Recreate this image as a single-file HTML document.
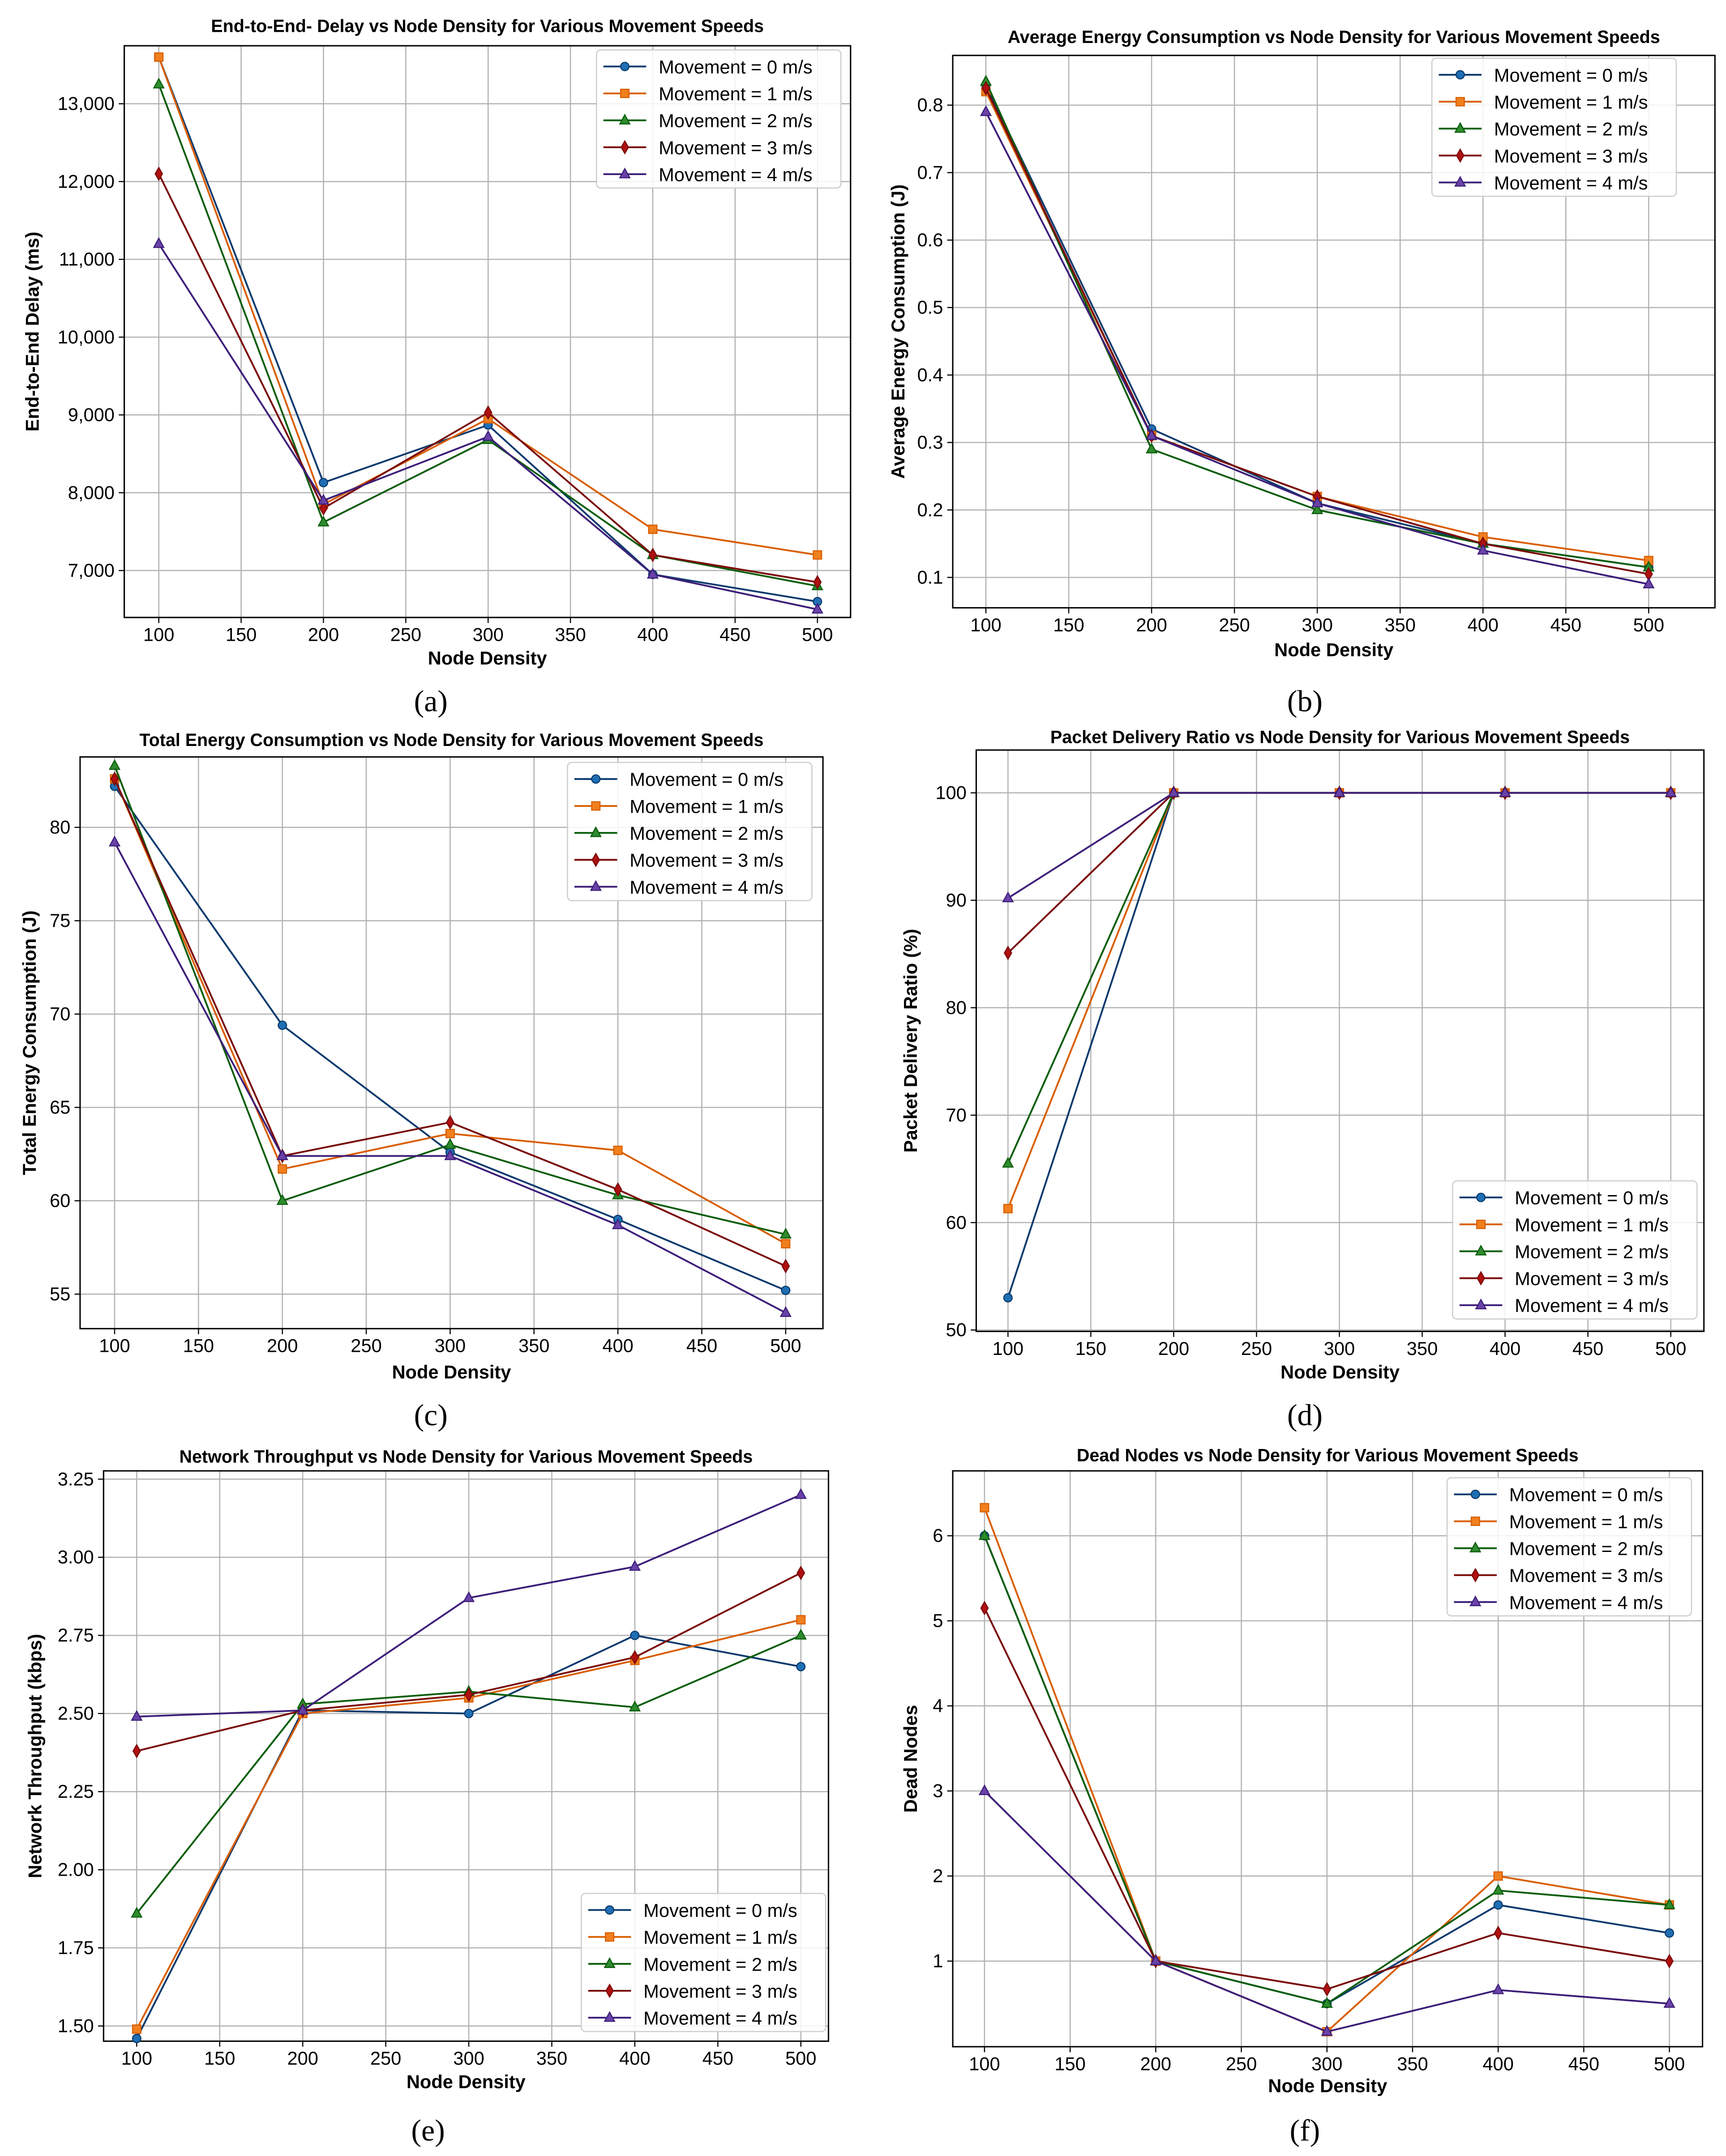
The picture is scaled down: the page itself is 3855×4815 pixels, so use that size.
<!DOCTYPE html>
<html><head><meta charset="utf-8"><style>
html,body{margin:0;padding:0;background:#fff;}
svg{display:block;}
text{font-family:"Liberation Sans","DejaVu Sans",sans-serif;}
</style></head><body>
<svg id="fig" width="3855" height="4815" viewBox="0 0 1250 1561" xmlns="http://www.w3.org/2000/svg"></svg>
<script>
const nodeDensity=[100,200,300,400,500];
const xTicks=[100,150,200,250,300,350,400,450,500];
const legendLabels=["Movement = 0 m/s","Movement = 1 m/s","Movement = 2 m/s","Movement = 3 m/s","Movement = 4 m/s"];
// (a) delay
const delayM0=[13600,8130,8870,6950,6600];
const delayM1=[13600,7850,8950,7530,7200];
const delayM2=[13250,7620,8680,7200,6800];
const delayM3=[12100,7800,9030,7200,6850];
const delayM4=[11200,7900,8720,6950,6500];
const delayTicks=[7000,8000,9000,10000,11000,12000,13000];
// (b) avg energy
const avgM0=[0.83,0.32,0.21,0.15,0.115];
const avgM1=[0.82,0.31,0.22,0.16,0.125];
const avgM2=[0.835,0.29,0.20,0.15,0.115];
const avgM3=[0.825,0.31,0.22,0.15,0.105];
const avgM4=[0.79,0.31,0.21,0.14,0.09];
const avgTicks=[0.1,0.2,0.3,0.4,0.5,0.6,0.7,0.8];
// (c) total energy
const totM0=[82.2,69.4,62.6,59.0,55.2];
const totM1=[82.6,61.7,63.6,62.7,57.7];
const totM2=[83.3,60.0,63.0,60.3,58.2];
const totM3=[82.6,62.4,64.2,60.6,56.5];
const totM4=[79.2,62.4,62.4,58.7,54.0];
const totTicks=[55,60,65,70,75,80];
// (d) PDR
const pdrM0=[53,100,100,100,100];
const pdrM1=[61.3,100,100,100,100];
const pdrM2=[65.5,100,100,100,100];
const pdrM3=[85.1,100,100,100,100];
const pdrM4=[90.2,100,100,100,100];
const pdrTicks=[50,60,70,80,90,100];
// (e) throughput
const thrM0=[1.46,2.51,2.50,2.75,2.65];
const thrM1=[1.49,2.50,2.55,2.67,2.80];
const thrM2=[1.86,2.53,2.57,2.52,2.75];
const thrM3=[2.38,2.51,2.56,2.68,2.95];
const thrM4=[2.49,2.51,2.87,2.97,3.20];
const thrTicks=[1.5,1.75,2.0,2.25,2.5,2.75,3.0,3.25];
// (f) dead nodes
const deadM0=[6.0,1.0,0.5,1.66,1.33];
const deadM1=[6.33,1.0,0.17,2.0,1.66];
const deadM2=[6.0,1.0,0.5,1.83,1.66];
const deadM3=[5.15,1.0,0.67,1.33,1.0];
const deadM4=[3.0,1.0,0.17,0.66,0.5];
const deadTicks=[1,2,3,4,5,6];

const lineCols=["#0b3a6e","#d95f02","#0b5e0b","#7a0a0a","#3e1f7a"];
const markCols=["#1f6fb4","#f07f1e","#2e8b2e","#b01010","#6a42a8"];
const markers=["circle","square","tri","diamond","tri"];
const NS="http://www.w3.org/2000/svg";
const svg=document.getElementById("fig");
function mk(tag,attrs,parent){const e=document.createElementNS(NS,tag);for(const k in attrs)e.setAttribute(k,attrs[k]);(parent||svg).appendChild(e);return e;}
function marker(g,type,x,y,fill,stroke){
  let m;
  if(type==="circle")m=mk("circle",{cx:x,cy:y,r:3},g);
  else if(type==="square")m=mk("rect",{x:x-3,y:y-3,width:6,height:6},g);
  else if(type==="tri")m=mk("polygon",{points:`${x},${y-4} ${x-3.6},${y+2.6} ${x+3.6},${y+2.6}`},g);
  else m=mk("polygon",{points:`${x},${y-4.5} ${x-2.6},${y} ${x},${y+4.5} ${x+2.6},${y}`},g);
  m.setAttribute("fill",fill);m.setAttribute("stroke",stroke);m.setAttribute("stroke-width","0.8");
  
  
}
function fmt(v,p){
  if(p.fmt==="comma")return v.toLocaleString("en-US");
  if(p.fmt==="f1")return v.toFixed(1);
  if(p.fmt==="f2")return v.toFixed(2);
  return String(v);
}
function panel(p){
  const g=mk("g",{});
  
  
  const xs=v=>p.x100+(v-100)*(p.x500-p.x100)/400;
  const ys=v=>p.yA+(v-p.vA)*(p.yB-p.yA)/(p.vB-p.vA);
  xTicks.forEach(t=>{const l=mk("line",{x1:xs(t),x2:xs(t),y1:p.top,y2:p.bot,stroke:"#b0b0b0","stroke-width":0.8},g);});
  p.yTicks.forEach(t=>{const l=mk("line",{x1:p.left,x2:p.right,y1:ys(t),y2:ys(t),stroke:"#b0b0b0","stroke-width":0.8},g);});
  const fr=mk("rect",{x:p.left,y:p.top,width:p.right-p.left,height:p.bot-p.top,fill:"none",stroke:"#000","stroke-width":1},g);
  
  xTicks.forEach(t=>{
    mk("line",{x1:xs(t),x2:xs(t),y1:p.bot,y2:p.bot+4,stroke:"#000","stroke-width":0.8},g);
    const tx=mk("text",{x:xs(t),y:p.bot+17,"font-size":13.5,"text-anchor":"middle"},g);tx.textContent=t;
    
  });
  p.yTicks.forEach(t=>{
    mk("line",{x1:p.left-4,x2:p.left,y1:ys(t),y2:ys(t),stroke:"#000","stroke-width":0.8},g);
    const tx=mk("text",{x:p.left-7,y:ys(t)+4.5,"font-size":13.5,"text-anchor":"end"},g);tx.textContent=fmt(t,p);
    
  });
  p.series.forEach((s,i)=>{
    const pts=nodeDensity.map((d,j)=>xs(d)+","+ys(s[j])).join(" ");
    const pl=mk("polyline",{points:pts,fill:"none",stroke:lineCols[i],"stroke-width":1.3},g);
    
    nodeDensity.forEach((d,j)=>marker(g,markers[i],xs(d),ys(s[j]),markCols[i],lineCols[i]));
  });
  const ti=mk("text",{x:(p.left+p.right)/2,y:p.titleY,"font-size":12.8,"font-weight":"bold","text-anchor":"middle"},g);ti.textContent=p.title;
  
  const xl=mk("text",{x:(p.left+p.right)/2,y:p.xlabY,"font-size":13.5,"font-weight":"bold","text-anchor":"middle"},g);xl.textContent="Node Density";
  
  const cy=(p.top+p.bot)/2;
  const yl=mk("text",{x:p.ylabX,y:cy,"font-size":13.5,"font-weight":"bold","text-anchor":"middle",transform:`rotate(-90 ${p.ylabX} ${cy})`},g);yl.textContent=p.ylab;
  
  const lg=mk("g",{},g);
  
  mk("rect",{x:p.lx,y:p.ly,width:177,height:100,rx:3,fill:"#fff","fill-opacity":0.85,stroke:"#ccc","stroke-width":0.8},lg);
  legendLabels.forEach((lab,i)=>{
    const yy=p.ly+12+i*19.5;
    const ln=mk("line",{x1:p.lx+5,x2:p.lx+36,y1:yy,y2:yy,stroke:lineCols[i],"stroke-width":1.3},lg);
    
    marker(lg,markers[i],p.lx+20.5,yy,markCols[i],lineCols[i]);
    const tx=mk("text",{x:p.lx+45,y:yy+5,"font-size":13.5},lg);tx.textContent=lab;
    
  });
  const cap=mk("text",{x:p.capX,y:p.capY,"font-size":22,"text-anchor":"middle",style:"font-family:'Liberation Serif',serif"},g);
  cap.textContent=p.cap;
  
}
panel({name:"delay-chart",left:90,right:616,top:33,bot:447,x100:115,x500:592,vA:13000,yA:75,vB:7000,yB:413,yTicks:delayTicks,fmt:"comma",
  series:[delayM0,delayM1,delayM2,delayM3,delayM4],title:"End-to-End- Delay vs Node Density for Various Movement Speeds",titleY:23,xlabY:481,ylabX:28,ylab:"End-to-End Delay (ms)",lx:432,ly:36,cap:"(a)",capX:312,capY:515});
panel({name:"avg-energy-chart",left:690,right:1242,top:40,bot:440,x100:714,x500:1194,vA:0.8,yA:76,vB:0.1,yB:418,yTicks:avgTicks,fmt:"f1",
  series:[avgM0,avgM1,avgM2,avgM3,avgM4],title:"Average Energy Consumption vs Node Density for Various Movement Speeds",titleY:31,xlabY:475,ylabX:655,ylab:"Average Energy Consumption (J)",lx:1037,ly:42,cap:"(b)",capX:945,capY:515});
panel({name:"total-energy-chart",left:58,right:596,top:548,bot:962,x100:83,x500:569,vA:80,yA:599,vB:55,yB:937,yTicks:totTicks,fmt:"int",
  series:[totM0,totM1,totM2,totM3,totM4],title:"Total Energy Consumption vs Node Density for Various Movement Speeds",titleY:540,xlabY:998,ylabX:26,ylab:"Total Energy Consumption (J)",lx:411,ly:552,cap:"(c)",capX:312,capY:1032});
panel({name:"pdr-chart",left:707,right:1234,top:543,bot:964,x100:730,x500:1210,vA:100,yA:574,vB:50,yB:963,yTicks:pdrTicks,fmt:"int",
  series:[pdrM0,pdrM1,pdrM2,pdrM3,pdrM4],title:"Packet Delivery Ratio vs Node Density for Various Movement Speeds",titleY:538,xlabY:998,ylabX:664,ylab:"Packet Delivery Ratio (%)",lx:1052,ly:855,cap:"(d)",capX:945,capY:1032});
panel({name:"throughput-chart",left:75,right:600,top:1065,bot:1478,x100:99,x500:580,vA:3.25,yA:1071,vB:1.5,yB:1467,yTicks:thrTicks,fmt:"f2",
  series:[thrM0,thrM1,thrM2,thrM3,thrM4],title:"Network Throughput vs Node Density for Various Movement Speeds",titleY:1059,xlabY:1512,ylabX:30,ylab:"Network Throughput (kbps)",lx:421,ly:1371,cap:"(e)",capX:310,capY:1550});
panel({name:"dead-nodes-chart",left:690,right:1233,top:1065,bot:1482,x100:713,x500:1209,vA:6,yA:1112,vB:1,yB:1420,yTicks:deadTicks,fmt:"int",
  series:[deadM0,deadM1,deadM2,deadM3,deadM4],title:"Dead Nodes vs Node Density for Various Movement Speeds",titleY:1058,xlabY:1515,ylabX:664,ylab:"Dead Nodes",lx:1048,ly:1070,cap:"(f)",capX:945,capY:1550});
</script>
</body></html>
